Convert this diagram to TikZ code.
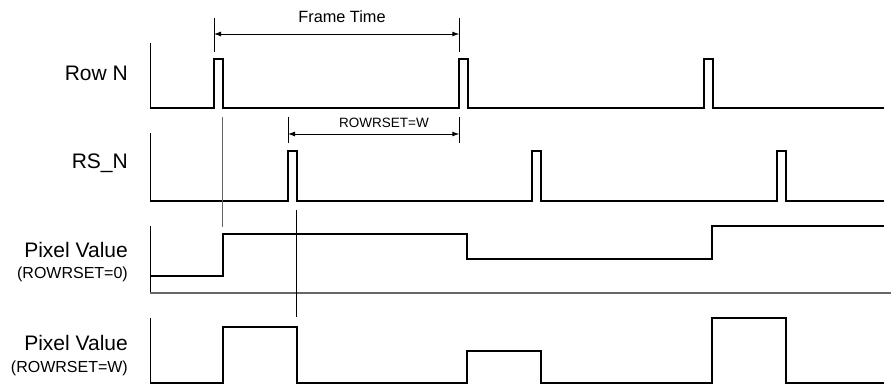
\documentclass[tikz,border=0pt]{standalone}
\usepackage{fontspec}
\setmainfont{Liberation Sans}
\usetikzlibrary{arrows.meta}
\begin{document}
\begin{tikzpicture}[x=1pt,y=-1pt,
  sig/.style={line width=2pt,line join=miter},
  axisline/.style={line width=1pt},
  tickline/.style={line width=0.9pt},
  guide/.style={line width=0.9pt},
  dimarrow/.style={line width=0.9pt,{Latex[length=7pt,width=5pt]}-{Latex[length=7pt,width=5pt]}},
  biglabel/.style={font=\fontsize{21}{21}\selectfont,anchor=base east,inner sep=0pt},
  smalllabel/.style={font=\fontsize{16}{16}\selectfont,anchor=base east,inner sep=0pt},
  dimlabel/.style={inner sep=0pt,anchor=base}]
\useasboundingbox (0,0) rectangle (891,385);

% labels
\node[biglabel] (lrow) at (128,81) {Row N};
\node[biglabel] (lrs) at (128,168) {RS\_N};
\node[biglabel] (lpv0) at (128,257) {Pixel Value};
\node[smalllabel] (lpv0s) at (128,278) {(ROWRSET=0)};
\node[biglabel] (lpvw) at (128,350) {Pixel Value};
\node[smalllabel] (lpvws) at (128,372) {(ROWRSET=W)};

% axes
\draw[axisline] (150,43) -- (150,108);
\draw[axisline] (150,133) -- (150,201);
\draw[axisline] (150,226) -- (150,293);
\draw[axisline] (150,318) -- (150,383);
\draw[line width=1.5pt,black!60] (150,293) -- (891,293);

% Row N
\draw[sig] (150,108) -- (214,108) -- (214,59) -- (222.7,59) -- (222.7,108)
  -- (459.3,108) -- (459.3,59) -- (468,59) -- (468,108)
  -- (704,108) -- (704,59) -- (712.7,59) -- (712.7,108) -- (884,108);

% RS_N
\draw[sig] (150,201) -- (288,201) -- (288,151) -- (296.7,151) -- (296.7,201)
  -- (532.3,201) -- (532.3,151) -- (541,151) -- (541,201)
  -- (777.3,201) -- (777.3,151) -- (786,151) -- (786,201) -- (884,201);

% Pixel value ROWRSET=0
\draw[sig] (150,276) -- (222.7,276) -- (222.7,234) -- (467.3,234) -- (467.3,259)
  -- (712.3,259) -- (712.3,226) -- (884,226);

% Pixel value ROWRSET=W
\draw[sig] (150,383) -- (222.7,383) -- (222.7,327) -- (296.5,327) -- (296.5,383)
  -- (467.3,383) -- (467.3,351) -- (541,351) -- (541,383)
  -- (712.3,383) -- (712.3,318) -- (785.7,318) -- (785.7,383) -- (884,383);

% Frame time dimension
\coordinate (ft1t) at (214,18); \coordinate (ft1b) at (214,52);
\coordinate (ft2t) at (459.3,18); \coordinate (ft2b) at (459.3,52);
\draw[tickline] (ft1t) -- (ft1b);
\draw[tickline] (ft2t) -- (ft2b);
\coordinate (fta) at (214,34); \coordinate (ftb) at (459.3,34);
\draw[dimarrow] (fta) -- (ftb);
\node[dimlabel,font=\fontsize{16.3}{16}\selectfont] (ftl) at (342,23) {Frame Time};

% ROWRSET dimension
\coordinate (rw1t) at (288,117); \coordinate (rw1b) at (288,143);
\coordinate (rw2t) at (459.3,117); \coordinate (rw2b) at (459.3,143);
\draw[tickline] (rw1t) -- (rw1b);
\draw[tickline] (rw2t) -- (rw2b);
\coordinate (rwa) at (288,134); \coordinate (rwb) at (459.3,134);
\draw[dimarrow] (rwa) -- (rwb);
\node[dimlabel,font=\fontsize{13.5}{14}\selectfont] (rwl) at (384,128) {ROWRSET=W};

% guide lines
\coordinate (g1t) at (222.7,117); \coordinate (g1b) at (222.7,227);
\draw[guide,black!60] (g1t) -- (g1b);
\coordinate (g2t) at (296.5,210); \coordinate (g2b) at (296.5,317);
\draw[guide] (g2t) -- (g2b);
\end{tikzpicture}
\end{document}
